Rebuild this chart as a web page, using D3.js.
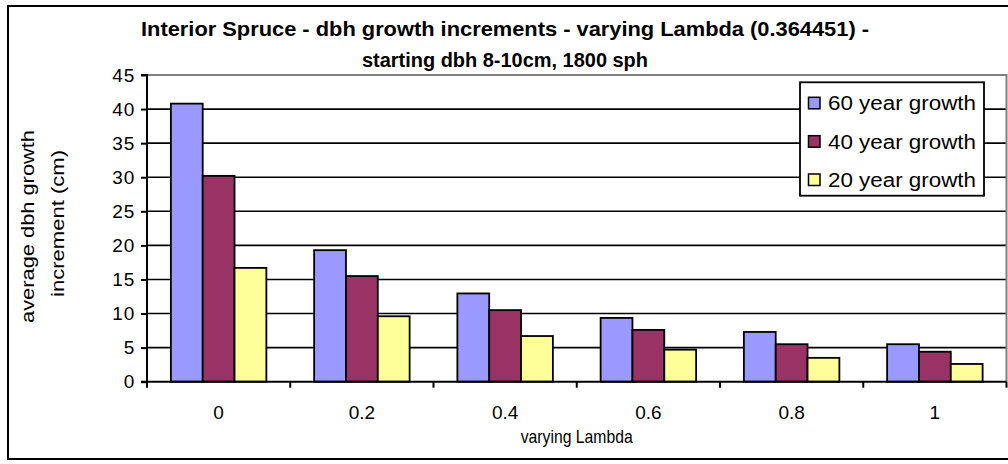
<!DOCTYPE html>
<html>
<head>
<meta charset="utf-8">
<script src="https://cdn.jsdelivr.net/npm/d3@7/dist/d3.min.js"></script>
<style>
  html, body { margin: 0; padding: 0; background: #fff; }
  svg { display: block; font-family: "Liberation Sans", Arial, sans-serif; }
</style>
</head>
<body>
<svg id="chart" width="1008" height="464"></svg>
<script>
const categories = ["0", "0.2", "0.4", "0.6", "0.8", "1"];
const seriesNames = ["60 year growth", "40 year growth", "20 year growth"];
const seriesColors = ["#9999FF", "#993366", "#FFFF99"];
const growth60 = [40.8, 19.3, 12.95, 9.36, 7.3, 5.5];
const growth40 = [30.2, 15.5, 10.5, 7.6, 5.5, 4.4];
const growth20 = [16.7, 9.6, 6.7, 4.7, 3.5, 2.6];
const yTicks = [0, 5, 10, 15, 20, 25, 30, 35, 40, 45];
const titleLines = ["Interior Spruce - dbh growth increments - varying Lambda (0.364451) -", "starting dbh 8-10cm, 1800 sph"];
const xTitle = "varying Lambda";
const yTitleLines = ["average dbh growth", "increment (cm)"];

const seriesValues = [growth60, growth40, growth20];

const svg = d3.select("#chart");
const plot = { left: 147, right: 1006.5, top: 75, bottom: 381.7 };

// outer border
svg.append("rect").attr("x", 8).attr("y", 6).attr("width", 1004).attr("height", 453)
  .attr("fill", "#fff").attr("stroke", "#000").attr("stroke-width", 2);

const x = d3.scaleBand().domain(categories).range([plot.left, plot.right]).padding(0);
const bw = x.bandwidth();
const xs = d3.scaleBand().domain(d3.range(seriesNames.length)).range([bw / 6, bw * 5 / 6]).padding(0);
const y = d3.scaleLinear().domain([0, 45]).range([plot.bottom, plot.top]);

// gridlines
svg.append("g").selectAll("line").data(yTicks.filter(t => t > 0 && t < 45)).join("line")
  .attr("x1", plot.left).attr("x2", plot.right)
  .attr("y1", d => y(d)).attr("y2", d => y(d))
  .attr("stroke", "#000").attr("stroke-width", 1.6);

// plot area border (top/right) grey
svg.append("path")
  .attr("d", `M${plot.left},${y(45)}H${plot.right}V${plot.bottom}`)
  .attr("fill", "none").attr("stroke", "#808080").attr("stroke-width", 2);

// bars
const groups = svg.append("g").selectAll("g").data(categories).join("g")
  .attr("transform", d => `translate(${x(d)},0)`);
groups.selectAll("rect").data((d, i) => seriesValues.map((s, k) => ({ k, v: s[i] }))).join("rect")
  .attr("x", d => xs(d.k))
  .attr("width", xs.bandwidth())
  .attr("y", d => y(d.v))
  .attr("height", d => y(0) - y(d.v))
  .attr("fill", d => seriesColors[d.k])
  .attr("stroke", "#000").attr("stroke-width", 1.8);

// y axis
const yAxis = d3.axisLeft(y).tickValues(yTicks).tickSize(6).tickPadding(6).tickFormat(d3.format("d"));
const gy = svg.append("g").attr("transform", `translate(${plot.left},0)`).call(yAxis);
gy.select(".domain").attr("stroke", "#000").attr("stroke-width", 2).attr("d", `M-6,${y(45)}H0V${plot.bottom}H-6`);
gy.selectAll(".tick line").attr("stroke", "#000").attr("stroke-width", 2);
gy.selectAll(".tick text").attr("font-size", 19).attr("fill", "#000")
  .attr("font-family", "Liberation Sans, Arial, sans-serif").attr("letter-spacing", 0.8);

// x axis: ticks at band boundaries
const gx = svg.append("g").attr("transform", `translate(0,${plot.bottom})`);
gx.append("line").attr("x1", plot.left).attr("x2", plot.right).attr("y1", 0).attr("y2", 0)
  .attr("stroke", "#000").attr("stroke-width", 2);
const boundaries = categories.map(c => x(c)).concat([plot.right]);
gx.selectAll("line.tk").data(boundaries).join("line").attr("class", "tk")
  .attr("x1", d => d).attr("x2", d => d).attr("y1", 0).attr("y2", 6)
  .attr("stroke", "#000").attr("stroke-width", 2);
gx.selectAll("text").data(categories).join("text")
  .attr("x", d => x(d) + bw / 2).attr("y", 37)
  .attr("text-anchor", "middle").attr("font-size", 19)
  .text(d => d);

// titles
const tt = svg.append("g");
tt.append("text").attr("x", 505).attr("y", 36).attr("text-anchor", "middle")
  .attr("font-size", 20).attr("font-weight", "bold").attr("textLength", 728).attr("lengthAdjust", "spacingAndGlyphs")
  .text(titleLines[0]);
tt.append("text").attr("x", 505).attr("y", 67).attr("text-anchor", "middle")
  .attr("font-size", 20).attr("font-weight", "bold").attr("textLength", 286).attr("lengthAdjust", "spacingAndGlyphs")
  .text(titleLines[1]);

svg.append("text").attr("x", (plot.left + plot.right) / 2).attr("y", 443).attr("text-anchor", "middle")
  .attr("font-size", 19).attr("textLength", 112).attr("lengthAdjust", "spacingAndGlyphs").text(xTitle);

svg.append("text").attr("transform", "translate(34,226.5) rotate(-90)").attr("text-anchor", "middle")
  .attr("font-size", 19).attr("textLength", 193).attr("lengthAdjust", "spacingAndGlyphs").text(yTitleLines[0]);
svg.append("text").attr("transform", "translate(64,223.5) rotate(-90)").attr("text-anchor", "middle")
  .attr("font-size", 19).attr("textLength", 147).attr("lengthAdjust", "spacingAndGlyphs").text(yTitleLines[1]);

// legend
const lg = svg.append("g");
lg.append("rect").attr("x", 800).attr("y", 82.3).attr("width", 184).attr("height", 113.4)
  .attr("fill", "#fff").attr("stroke", "#000").attr("stroke-width", 1.8);
const rowY = [103.3, 141.7, 180];
seriesNames.forEach((name, k) => {
  lg.append("rect").attr("x", 808.5).attr("y", rowY[k] - 6).attr("width", 11.5).attr("height", 11.5)
    .attr("fill", seriesColors[k]).attr("stroke", "#000").attr("stroke-width", 1.5);
  lg.append("text").attr("x", 828).attr("y", rowY[k] + 7).attr("font-size", 20)
    .attr("textLength", 148).attr("lengthAdjust", "spacingAndGlyphs").text(name);
});
</script>
</body>
</html>
